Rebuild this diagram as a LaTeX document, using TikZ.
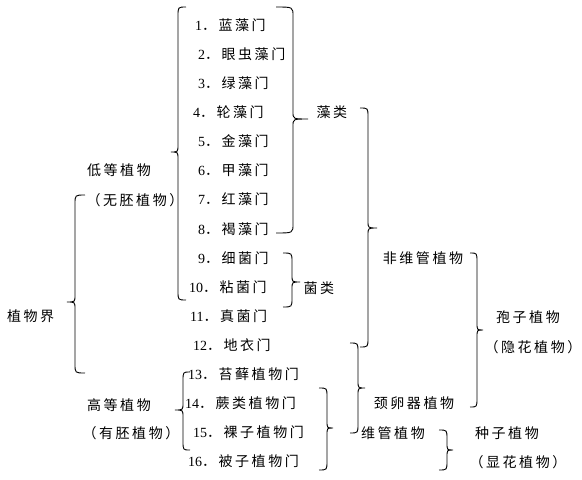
\documentclass[tikz,border=0pt]{standalone}
\usepackage{fontspec}
\setmainfont{Liberation Serif}
\newfontfamily\cjk[LetterSpace=18]{Noto Sans CJK SC}
\newcommand\ItemTxt[2]{#1{\cjk ．#2}}
\newcommand\RBrc[6]{\draw[brc] (#1,#4) .. controls (#2,#4) .. (#2,#4+9) -- (#2,#5-7) .. controls (#2,#5) .. (#3,#5) .. controls (#2,#5) .. (#2,#5+7) -- (#2,#6-9) .. controls (#2,#6) .. (#1,#6);}
\begin{document}
\begin{tikzpicture}[x=1pt,y=-1pt,
  lbl/.style={inner sep=0pt,font=\fontsize{14pt}{16pt}\selectfont\cjk},
  itm/.style={inner sep=0pt,anchor=west,font=\fontsize{14pt}{16pt}\selectfont},
  brc/.style={line width=0.9pt,black}]
\useasboundingbox (0,0) rectangle (582,480);
% items
\node[itm] (n1)  at (195,25.0)  {\ItemTxt{1}{蓝藻门}};
\node[itm] (n2)  at (198,54.1)  {\ItemTxt{2}{眼虫藻门}};
\node[itm] (n3)  at (198,83.2)  {\ItemTxt{3}{绿藻门}};
\node[itm] (n4)  at (193,112.3) {\ItemTxt{4}{轮藻门}};
\node[itm] (n5)  at (198,141.4) {\ItemTxt{5}{金藻门}};
\node[itm] (n6)  at (198,170.5) {\ItemTxt{6}{甲藻门}};
\node[itm] (n7)  at (198,199.6) {\ItemTxt{7}{红藻门}};
\node[itm] (n8)  at (198,228.7) {\ItemTxt{8}{褐藻门}};
\node[itm] (n9)  at (198,257.8) {\ItemTxt{9}{细菌门}};
\node[itm] (n10) at (189,286.9) {\ItemTxt{10}{粘菌门}};
\node[itm] (n11) at (190,316.0) {\ItemTxt{11}{真菌门}};
\node[itm] (n12) at (193,345.1) {\ItemTxt{12}{地衣门}};
\node[itm] (n13) at (188,374.2) {\ItemTxt{13}{苔藓植物门}};
\node[itm] (n14) at (185,403.3) {\ItemTxt{14}{蕨类植物门}};
\node[itm] (n15) at (193,432.4) {\ItemTxt{15}{裸子植物门}};
\node[itm] (n16) at (188,461.5) {\ItemTxt{16}{被子植物门}};
% labels
\node[lbl,anchor=west] (root) at (7,316) {植物界};
\node[lbl] (low)  at (119,170) {低等植物};
\node[lbl] (lowp) at (135,200) {（无胚植物）};
\node[lbl] (high) at (119,405) {高等植物};
\node[lbl] (highp) at (131,433) {（有胚植物）};
\node[lbl] (alg)  at (332,112) {藻类};
\node[lbl] (fung) at (319,288) {菌类};
\node[lbl] (nonv) at (423,258) {非维管植物};
\node[lbl] (spor) at (528,317) {孢子植物};
\node[lbl] (sporp) at (533,347) {（隐花植物）};
\node[lbl] (arch) at (414,403) {颈卵器植物};
\node[lbl] (vasc) at (393,433) {维管植物};
\node[lbl] (seed) at (507,433) {种子植物};
\node[lbl] (seedp) at (518,462) {（显花植物）};
% braces
\RBrc{85}{75}{67}{195}{302}{373}
\RBrc{186}{178}{171}{7}{152}{300}
\RBrc{190}{183}{175}{372}{410}{450}
\RBrc{276}{293}{308}{7}{119}{233}
\RBrc{283}{292}{300}{253}{282}{307}
\RBrc{360}{368}{377}{108}{228}{347}
\RBrc{350}{358}{365}{343}{388}{433}
\RBrc{319}{327}{333}{388}{428}{470}
\RBrc{439}{447}{453}{430}{450}{470}
\RBrc{470}{477}{483}{253}{330}{407}
\end{tikzpicture}
\end{document}
